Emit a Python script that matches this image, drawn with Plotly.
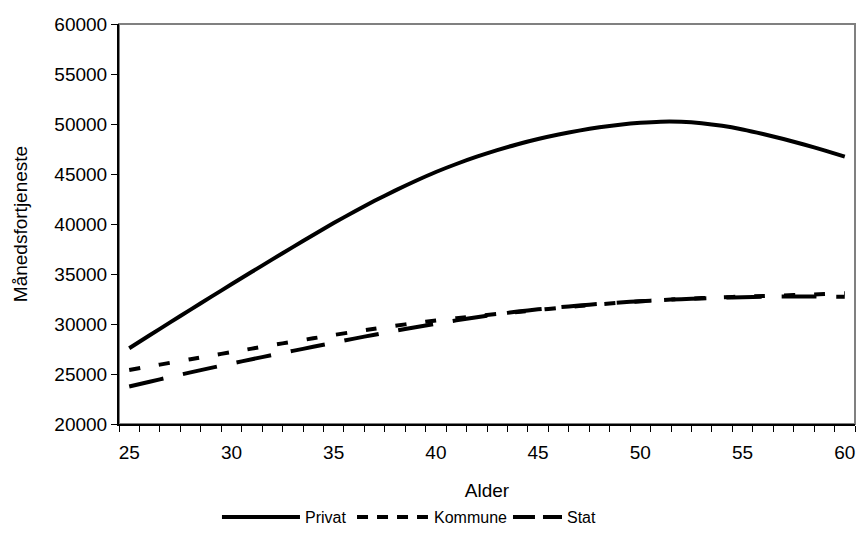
import plotly.graph_objects as go

ages = list(range(25, 61))

privat = [27570, 28870, 30160, 31440, 32710, 33970, 35220, 36460, 37690, 38900,
          40090, 41230, 42320, 43340, 44300, 45200, 46000, 46730, 47390, 47980,
          48500, 48950, 49340, 49670, 49930, 50120, 50230, 50220, 50080, 49820,
          49450, 49000, 48500, 47950, 47360, 46730]

kommune = [25400, 25760, 26120, 26480, 26840, 27190, 27540, 27890, 28230, 28570,
           28900, 29220, 29530, 29820, 30100, 30350, 30580, 30800, 31010, 31210,
           31400, 31610, 31800, 31970, 32130, 32270, 32390, 32500, 32590, 32670,
           32740, 32800, 32860, 32920, 32990, 33080]

stat = [23750, 24230, 24700, 25160, 25610, 26050, 26480, 26900, 27310, 27720,
        28130, 28540, 28930, 29310, 29680, 30030, 30360, 30680, 30980, 31240,
        31470, 31670, 31850, 32010, 32150, 32280, 32390, 32480, 32560, 32630,
        32680, 32720, 32740, 32750, 32740, 32720]

x_tick_labels = [25, 30, 35, 40, 45, 50, 55, 60]
y_ticks = [20000, 25000, 30000, 35000, 40000, 45000, 50000, 55000, 60000]

series = [
    ("Privat", privat, "solid"),
    ("Kommune", kommune, "11px,19px"),
    ("Stat", stat, "35px,20px"),
]

FONT = "Liberation Sans, Arial, sans-serif"

fig = go.Figure()
for name, vals, dash in series:
    fig.add_trace(go.Scatter(
        x=ages, y=vals, name=name, mode="lines",
        line=dict(color="black", width=4, dash=dash, shape="spline", smoothing=0.6),
        showlegend=False,
    ))

# plot-area border (top/right gray)
fig.add_shape(type="rect", xref="paper", yref="paper", x0=0, y0=0, x1=1, y1=1,
              line=dict(color="#808080", width=2), layer="below")

# manual legend (long line samples as in the original)
leg_y = -0.2325
leg = [("Privat", "solid", 0.1399, 0.2459, 0.2500),
       ("Kommune", "11px,9px", 0.3234, 0.4198, 0.4253),
       ("Stat", "22px,8px", 0.5353, 0.6019, 0.6060)]
for name, dash, lx0, lx1, tx in leg:
    fig.add_shape(type="line", xref="paper", yref="paper", x0=lx0, x1=lx1,
                  y0=leg_y, y1=leg_y, line=dict(color="black", width=4, dash=dash))
    fig.add_annotation(xref="paper", yref="paper", x=tx, y=leg_y, text=name,
                       showarrow=False, xanchor="left", yanchor="middle",
                       font=dict(family=FONT, size=16, color="black"))

fig.update_xaxes(
    range=[24.5, 60.5],
    tickmode="array", tickvals=x_tick_labels, ticktext=[str(v) for v in x_tick_labels],
    ticks="outside", ticklen=5, tickcolor="rgba(0,0,0,0)",
    ticklabelstandoff=5,
    minor=dict(tickmode="linear", tick0=24.5, dtick=1, ticks="outside", ticklen=6,
               tickcolor="black", tickwidth=1, showgrid=False),
    showline=True, linecolor="black", linewidth=2,
    showgrid=False, zeroline=False,
    tickfont=dict(family=FONT, size=19, color="black"),
    title=dict(text="Alder", font=dict(family=FONT, size=19, color="black"), standoff=22),
)
fig.update_yaxes(
    range=[20000, 60000],
    tickmode="array", tickvals=y_ticks, ticktext=[str(v) for v in y_ticks],
    ticks="outside", ticklen=6, tickcolor="black", tickwidth=1,
    showline=True, linecolor="black", linewidth=2,
    showgrid=False, zeroline=False,
    tickfont=dict(family=FONT, size=19, color="black"),
    title=dict(text="Månedsfortjeneste", font=dict(family=FONT, size=19, color="black"), standoff=22),
)

fig.update_layout(
    width=859, height=547,
    margin=dict(l=119, r=4, t=24, b=123),
    paper_bgcolor="white", plot_bgcolor="white",
    showlegend=False,
    font=dict(family=FONT, color="black"),
)

fig.write_html("out.html")
